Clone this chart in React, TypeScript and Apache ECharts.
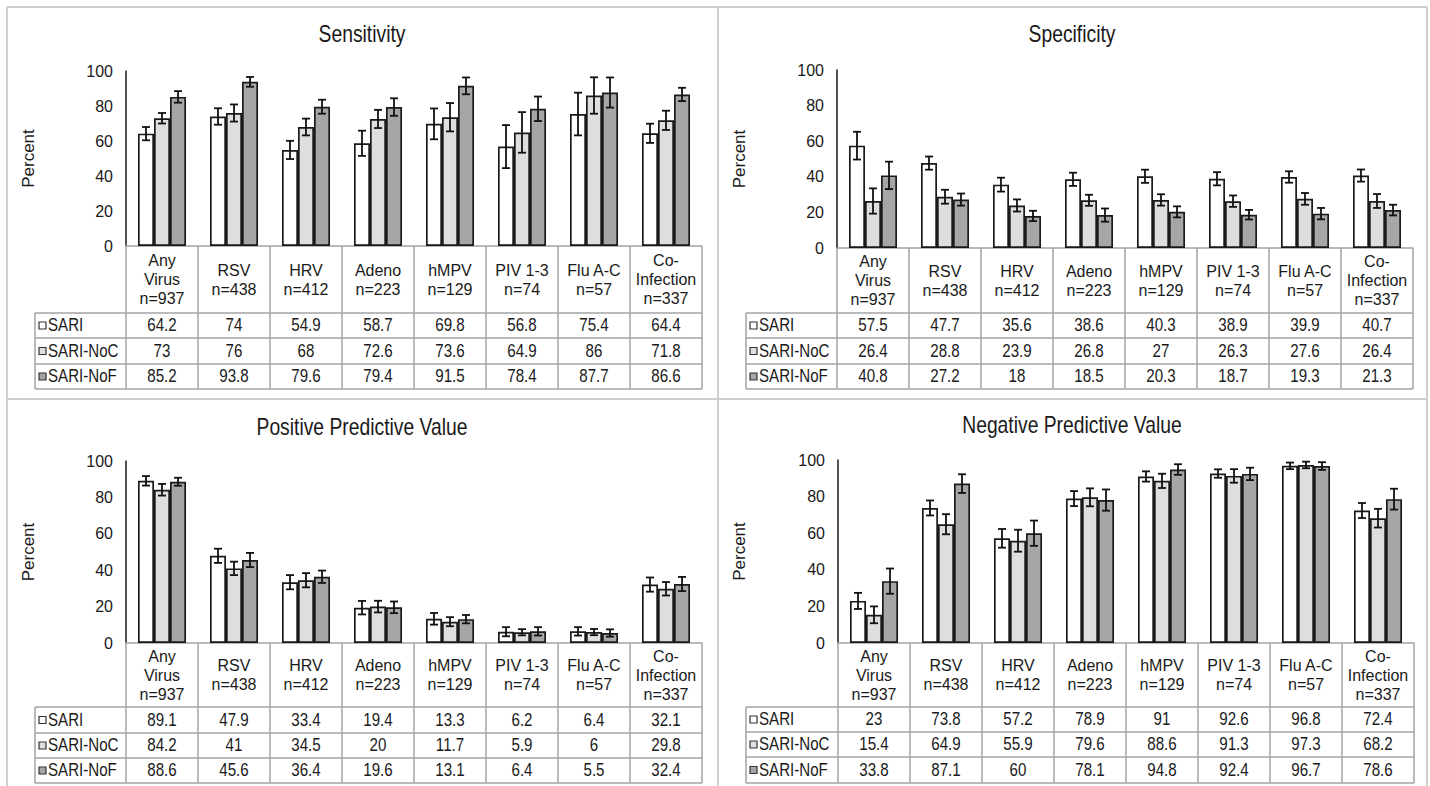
import React, { useEffect, useRef } from 'react';
import * as echarts from 'echarts';

// ---------- data ----------
const categories = ['Any\nVirus\nn=937', 'RSV\nn=438', 'HRV\nn=412', 'Adeno\nn=223', 'hMPV\nn=129', 'PIV 1-3\nn=74', 'Flu A-C\nn=57', 'Co-\nInfection\nn=337'];
const seriesNames = ['SARI', 'SARI-NoC', 'SARI-NoF'];
const panelTitles = ['Sensitivity', 'Specificity', 'Positive Predictive Value', 'Negative Predictive Value'];
const yTickMax = 100;
const yTickStep = 20;

const sensSARI = [64.2, 74, 54.9, 58.7, 69.8, 56.8, 75.4, 64.4];
const sensNoC = [73, 76, 68, 72.6, 73.6, 64.9, 86, 71.8];
const sensNoF = [85.2, 93.8, 79.6, 79.4, 91.5, 78.4, 87.7, 86.6];
const sensErrSARI = [3.8, 4.7, 5.2, 7.2, 8.8, 12.3, 12.2, 5.5];
const sensErrNoC = [3, 4.9, 4.8, 5.2, 8.1, 11.6, 10.4, 5.5];
const sensErrNoF = [3.3, 2.8, 4, 5, 4.8, 7, 8.6, 3.8];

const specSARI = [57.5, 47.7, 35.6, 38.6, 40.3, 38.9, 39.9, 40.7];
const specNoC = [26.4, 28.8, 23.9, 26.8, 27, 26.3, 27.6, 26.4];
const specNoF = [40.8, 27.2, 18, 18.5, 20.3, 18.7, 19.3, 21.3];
const specErrSARI = [7.8, 3.7, 3.9, 3.7, 3.7, 3.7, 3.2, 3.4];
const specErrNoC = [7.1, 3.9, 3.4, 3.1, 3.2, 3.2, 3.3, 3.9];
const specErrNoF = [7.7, 3.4, 2.9, 3.7, 3.1, 2.7, 3.2, 3];

const ppvSARI = [89.1, 47.9, 33.4, 19.4, 13.3, 6.2, 6.4, 32.1];
const ppvNoC = [84.2, 41, 34.5, 20, 11.7, 5.9, 6, 29.8];
const ppvNoF = [88.6, 45.6, 36.4, 19.6, 13.1, 6.4, 5.5, 32.4];
const ppvErrSARI = [2.6, 3.9, 3.9, 3.7, 3.2, 2.5, 2.3, 3.9];
const ppvErrNoC = [3.2, 3.7, 3.9, 3.2, 2.5, 1.7, 1.7, 3.7];
const ppvErrNoF = [2.2, 3.9, 3.4, 3.2, 2.3, 2.3, 2.0, 3.9];

const npvSARI = [23, 73.8, 57.2, 78.9, 91, 92.6, 96.8, 72.4];
const npvNoC = [15.4, 64.9, 55.9, 79.6, 88.6, 91.3, 97.3, 68.2];
const npvNoF = [33.8, 87.1, 60, 78.1, 94.8, 92.4, 96.7, 78.6];
const npvErrSARI = [4.4, 4.1, 5.1, 4.1, 2.8, 2.3, 1.8, 4.1];
const npvErrNoC = [4.6, 5.5, 6.0, 4.9, 3.9, 3.7, 1.8, 5.1];
const npvErrNoF = [6.9, 5.1, 6.9, 5.8, 2.9, 3.4, 2.1, 5.7];

// ---------- styles / layout ----------
const FONT = '"Liberation Sans", Arial, sans-serif';
const TEXT = '#1a1a1a';
const seriesColors = ['#ffffff', '#dedede', '#a6a6a6'];
const barBorder = '#1a1a1a';
const tableLine = '#a3a3a3';
const frameLine = '#cfcfcf';
const COLW = 72;
const GAP = 0.333;
const CONDENSE = 0.84;
const FS_TITLE = 23;
const FS_CELL = 18;
const FS_HEADER = 16;
const FS_TICK = 16;
const FS_NAME = 17;

const layouts = [
  { axisX: 126, y100: 71, y0: 246, tableLeft: 35, rows: [246, 313, 338, 364, 389], titleX: 362, titleY: 34 },
  { axisX: 837, y100: 70, y0: 248, tableLeft: 746, rows: [248, 313, 338, 364, 389], titleX: 1072, titleY: 34 },
  { axisX: 126, y100: 461, y0: 643, tableLeft: 35, rows: [643, 707, 733, 758, 783], titleX: 362, titleY: 427 },
  { axisX: 838, y100: 460, y0: 643, tableLeft: 746, rows: [643, 707, 732, 757, 783], titleX: 1072, titleY: 425 },
];

const panelValues = [
  [sensSARI, sensNoC, sensNoF],
  [specSARI, specNoC, specNoF],
  [ppvSARI, ppvNoC, ppvNoF],
  [npvSARI, npvNoC, npvNoF],
];
const panelErrors = [
  [sensErrSARI, sensErrNoC, sensErrNoF],
  [specErrSARI, specErrNoC, specErrNoF],
  [ppvErrSARI, ppvErrNoC, ppvErrNoF],
  [npvErrSARI, npvErrNoC, npvErrNoF],
];

function textEl(text: string, x: number, y: number, size: number, align: string, vAlign = 'middle') {
  return {
    type: 'text', x, y, scaleX: CONDENSE, silent: true, z: 20,
    style: {
      text, fill: TEXT, fontSize: size, fontFamily: FONT,
      align, verticalAlign: vAlign, textAlign: align, textVerticalAlign: vAlign,
    },
  };
}
function lineEl(x1: number, y1: number, x2: number, y2: number, color: string, w: number) {
  return { type: 'line', silent: true, z: 15, shape: { x1, y1, x2, y2 }, style: { stroke: color, lineWidth: w } };
}

function buildOption() {
  const nCat = categories.length;
  const grid: any[] = [];
  const xAxis: any[] = [];
  const yAxis: any[] = [];
  const series: any[] = [];
  const graphic: any[] = [];

  // outer frame
  graphic.push(lineEl(7, 7, 1427, 7, frameLine, 2));
  graphic.push(lineEl(7, 7, 7, 786, frameLine, 2));
  graphic.push(lineEl(1427, 7, 1427, 786, frameLine, 2));
  graphic.push(lineEl(718, 7, 718, 786, frameLine, 2));
  graphic.push(lineEl(7, 399, 1427, 399, frameLine, 2));

  layouts.forEach((p, i) => {
    const width = COLW * nCat;
    grid.push({ left: p.axisX, top: p.y100, width, height: p.y0 - p.y100 });
    xAxis.push({
      type: 'category', gridIndex: i, data: categories,
      axisTick: { show: false },
      axisLine: { show: true, lineStyle: { color: tableLine, width: 1.5 } },
      axisLabel: {
        interval: 0, margin: (p.rows[1] - p.y0) / 2, verticalAlign: 'middle',
        lineHeight: 19, fontSize: FS_HEADER, color: TEXT, fontFamily: FONT, align: 'center',
      },
    });
    yAxis.push({
      type: 'value', gridIndex: i, min: 0, max: yTickMax, interval: yTickStep,
      splitLine: { show: false },
      axisTick: { show: false },
      axisLine: { show: true, lineStyle: { color: TEXT, width: 1.5 } },
      axisLabel: { fontSize: FS_TICK, color: TEXT, fontFamily: FONT, margin: 13 },
      name: 'Percent', nameLocation: 'middle', nameGap: p.axisX - p.tableLeft - 2,
      nameTextStyle: { fontSize: FS_NAME, color: TEXT, fontFamily: FONT },
    });
    panelValues[i].forEach((vals, s) => {
      series.push({
        type: 'bar', name: seriesNames[s], xAxisIndex: i, yAxisIndex: i, data: vals,
        barGap: '0%', barCategoryGap: (GAP * 100).toFixed(1) + '%',
        itemStyle: { color: seriesColors[s], borderColor: barBorder, borderWidth: 1.7 },
        silent: true,
      });
    });
    const errData: number[][] = [];
    panelValues[i].forEach((vals, s) => {
      vals.forEach((v, c) => errData.push([c, s, v, panelErrors[i][s][c]]));
    });
    series.push({
      type: 'custom', xAxisIndex: i, yAxisIndex: i, data: errData, z: 10, silent: true,
      encode: { x: 0, y: 2 },
      renderItem: (params: any, api: any) => {
        const c = api.value(0), s = api.value(1), v = api.value(2), e = api.value(3);
        const band = api.size([1, 0])[0];
        const barW = band * (1 - GAP) / 3;
        const center = api.coord([c, v]);
        const x = center[0] + (s - 1) * barW;
        const yTop = api.coord([c, v + e])[1];
        const yBot = api.coord([c, v - e])[1];
        const cap = 4;
        const st = { stroke: '#111', lineWidth: 1.8 };
        return {
          type: 'group',
          children: [
            { type: 'line', shape: { x1: x, y1: yTop, x2: x, y2: yBot }, style: st },
            { type: 'line', shape: { x1: x - cap, y1: yTop, x2: x + cap, y2: yTop }, style: st },
            { type: 'line', shape: { x1: x - cap, y1: yBot, x2: x + cap, y2: yBot }, style: st },
          ],
        };
      },
    });

    // title
    graphic.push(textEl(panelTitles[i], p.titleX, p.titleY, FS_TITLE, 'center'));

    // table lines
    const right = p.axisX + width;
    for (let k = 0; k <= nCat; k++) {
      const x = p.axisX + k * COLW;
      graphic.push(lineEl(x, p.y0, x, p.rows[4], tableLine, 1.5));
    }
    graphic.push(lineEl(p.tableLeft, p.rows[1], p.tableLeft, p.rows[4], tableLine, 1.5));
    for (let r = 1; r <= 4; r++) {
      graphic.push(lineEl(p.tableLeft, p.rows[r], right, p.rows[r], tableLine, 1.5));
    }
    // rows
    panelValues[i].forEach((vals, s) => {
      const yMid = (p.rows[s + 1] + p.rows[s + 2]) / 2;
      graphic.push({
        type: 'rect', silent: true, z: 20,
        shape: { x: p.tableLeft + 4, y: yMid - 3.5, width: 7, height: 7 },
        style: { fill: seriesColors[s], stroke: '#333', lineWidth: 1.2 },
      });
      graphic.push(textEl(seriesNames[s], p.tableLeft + 13, yMid, FS_CELL, 'left'));
      vals.forEach((v, c) => {
        graphic.push(textEl(String(v), p.axisX + (c + 0.5) * COLW, yMid, FS_CELL, 'center'));
      });
    });
  });

  return {
    animation: false,
    backgroundColor: '#ffffff',
    textStyle: { fontFamily: FONT },
    grid, xAxis, yAxis, series, graphic,
  };
}

export default function App() {
  const ref = useRef<HTMLDivElement>(null);
  useEffect(() => {
    if (!ref.current) return;
    const chart = echarts.init(ref.current, undefined, { renderer: 'svg' });
    chart.setOption(buildOption() as any);
    return () => chart.dispose();
  }, []);
  return (
    <div
      ref={ref}
      style={{ position: 'fixed', left: 0, top: 0, width: 1430, height: 786, background: '#fff' }}
    />
  );
}
